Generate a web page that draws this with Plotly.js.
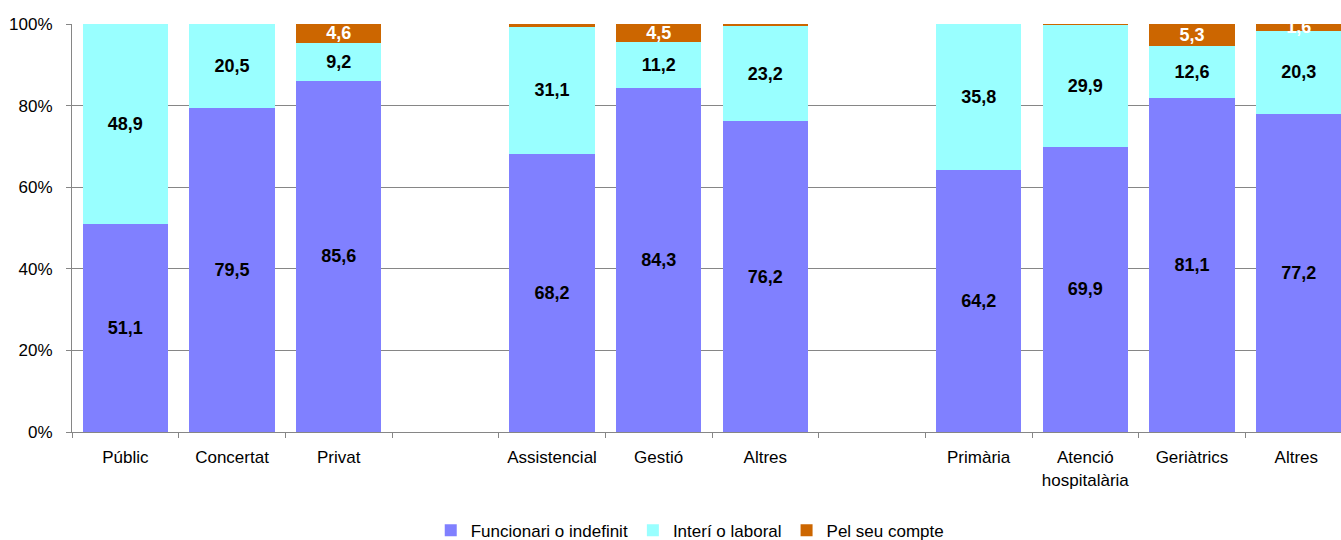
<!DOCTYPE html>
<html>
<head>
<meta charset="utf-8">
<script src="https://cdn.plot.ly/plotly-3.0.1.min.js"></script>
<style>
html,body{margin:0;padding:0;overflow:hidden;background:#fff;width:1341px;height:540px;}
#chart{width:1360px;height:540px;}
</style>
</head>
<body>
<div id="chart"></div>
<script>
const categories = ["Públic", "Concertat", "Privat", " ", "Assistencial", "Gestió", "Altres", "  ", "Primària", "Atenció<br>hospitalària", "Geriàtrics", "Altres "];
const funcionari = [51.1, 79.5, 85.6, null, 68.2, 84.3, 76.2, null, 64.2, 69.9, 81.1, 77.2];
const interi     = [48.9, 20.5, 9.2, null, 31.1, 11.2, 23.2, null, 35.8, 29.9, 12.6, 20.3];
const compte     = [0, 0, 4.6, null, 0.7, 4.5, 0.6, null, 0, 0.2, 5.3, 1.6];
const seriesNames = ["Funcionari o indefinit", "Interí o laboral", "Pel seu compte"];
const yTickVals = [0, 20, 40, 60, 80, 100];
const yTickText = ["0%", "20%", "40%", "60%", "80%", "100%"];

const FONT = "'Liberation Sans', Arial, sans-serif";
function labels(arr) {
  return arr.map(v => (v === null || v < 1) ? "" : v.toFixed(1).replace(".", ","));
}
function mk(name, vals, color, txtColor) {
  return {
    type: "bar", name: name, x: categories, y: vals,
    marker: {color: color, line: {width: 0}},
    text: labels(vals), textposition: "inside", insidetextanchor: "middle",
    textangle: 0, constraintext: "none", cliponaxis: true,
    textfont: {family: FONT, size: 18, color: txtColor, weight: "bold"},
    hoverinfo: "skip"
  };
}
const data = [
  mk(seriesNames[0], funcionari, "#8080FF", "#000000"),
  mk(seriesNames[1], interi, "#99FFFF", "#000000"),
  mk(seriesNames[2], compte, "#CC6600", "#FFFFFF")
];
const layout = {
  width: 1360, height: 540,
  margin: {l: 72, r: 8, t: 24, b: 108, autoexpand: false},
  barmode: "stack", barnorm: "percent", bargap: 0.2,
  paper_bgcolor: "#fff", plot_bgcolor: "#fff",
  font: {family: FONT, size: 17, color: "#000"},
  showlegend: true,
  legend: {orientation: "h", x: 0.483, xanchor: "center", yref: "container", y: 0.017, yanchor: "middle",
           font: {family: FONT, size: 17, color: "#000"}, traceorder: "normal"},
  xaxis: {
    type: "category", categoryorder: "array", categoryarray: categories,
    range: [-0.5, 11.5], tickson: "boundaries", ticks: "outside", ticklen: 5,
    tickcolor: "#868686", showline: true, linecolor: "#868686", linewidth: 1,
    ticklabelstandoff: 10,
    showgrid: false, tickfont: {family: FONT, size: 17, color: "#000"}, fixedrange: true
  },
  yaxis: {
    range: [0, 100], tickvals: yTickVals, ticktext: yTickText,
    ticks: "outside", ticklen: 5, tickcolor: "#868686",
    showline: true, linecolor: "#868686", linewidth: 1, ticklabelstandoff: 10,
    showgrid: true, gridcolor: "#868686", gridwidth: 1, zeroline: false,
    tickfont: {family: FONT, size: 17, color: "#000"}, fixedrange: true
  }
};
Plotly.newPlot("chart", data, layout, {displayModeBar: false, responsive: false, staticPlot: true});
</script>
</body>
</html>
